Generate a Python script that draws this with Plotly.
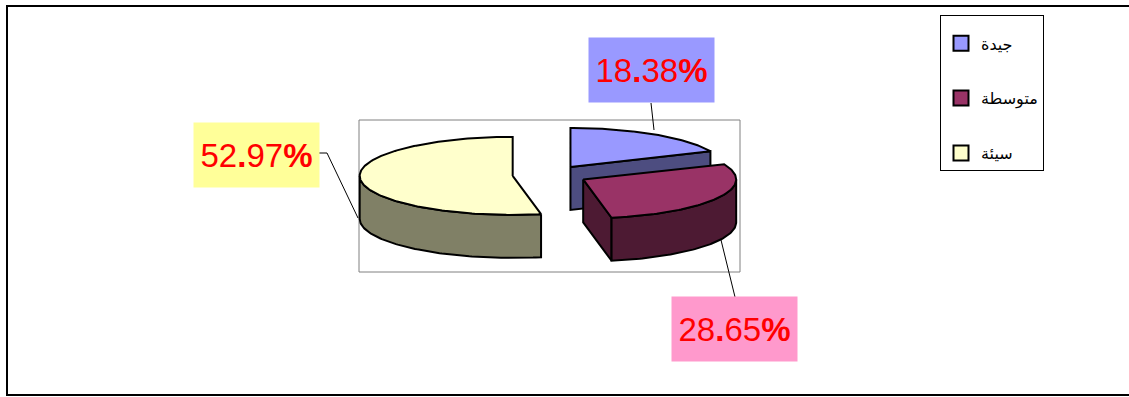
import numpy as np
import plotly.graph_objects as go

# ---- data ----
categories = ["جيدة", "متوسطة", "سيئة"]
percentages = [18.38, 28.65, 52.97]
top_colors = ["#9999FF", "#993366", "#FFFFCC"]
side_colors = ["#4D4D80", "#4D1A33", "#808066"]
label_bg = ["#9999FF", "#FF99CC", "#FFFF99"]
label_pos = [(651.5, 70), (734.5, 328.5), (256, 154.5)]

# ---- geometry (pixel space) ----
W, HGT = 1129, 397
CX, CY = 550, 175
RA, RB = 153, 39
DEPTH = 43
EXPLODE = 0.245


def arc(cx, cy, t1, t2, dy=0.0):
    n = max(2, int(abs(t2 - t1)) + 1)
    t = np.radians(np.linspace(t1, t2, n))
    return list(cx + RA * np.sin(t)), list(cy - RB * np.cos(t) + dy)


def pt(cx, cy, th, dy=0.0):
    r = np.radians(th)
    return cx + RA * np.sin(r), cy - RB * np.cos(r) + dy


fig = go.Figure()

total = sum(percentages)
starts = []
acc = 0.0
for v in percentages:
    starts.append(acc / total * 360.0)
    acc += v
ends = [s + v / total * 360.0 for s, v in zip(starts, percentages)]

slices = []
for i in range(len(percentages)):
    t1, t2 = starts[i], ends[i]
    mid = np.radians((t1 + t2) / 2)
    cx = CX + EXPLODE * RA * np.sin(mid)
    cy = CY - EXPLODE * RB * np.cos(mid)
    slices.append((cy, i, t1, t2, cx))

faces_style = dict(mode="lines", fill="toself", hoverinfo="skip", showlegend=False)

for cy, i, t1, t2, cx in sorted(slices):
    side = side_colors[i]
    # radial cut faces
    for th, normal in ((t1, t1 - 90), (t2, t2 + 90)):
        if np.cos(np.radians(normal)) < -1e-6:
            px, py = pt(cx, cy, th)
            xs = [cx, px, px, cx, cx]
            ys = [cy, py, py + DEPTH, cy + DEPTH, cy]
            fig.add_trace(go.Scatter(x=xs, y=ys, fillcolor=side,
                                     line=dict(color="black", width=2), **faces_style))
    # outer wall
    a1, a2 = max(t1, 90), min(t2, 270)
    if a2 > a1:
        xt, yt = arc(cx, cy, a1, a2)
        xb, yb = arc(cx, cy, a1, a2, DEPTH)
        xs = xt + xb[::-1] + [xt[0]]
        ys = yt + yb[::-1] + [yt[0]]
        fig.add_trace(go.Scatter(x=xs, y=ys, fillcolor=side,
                                 line=dict(color="black", width=2), **faces_style))
    # top face
    xa, ya = arc(cx, cy, t1, t2)
    fig.add_trace(go.Scatter(x=[cx] + xa + [cx], y=[cy] + ya + [cy],
                             fillcolor=top_colors[i],
                             line=dict(color="black", width=2), **faces_style))

# legend entries
for i, name in enumerate(categories):
    fig.add_trace(go.Scatter(
        x=[None], y=[None], mode="markers", name=name, legendgroup=str(i),
        marker=dict(symbol="square", size=15, color=top_colors[i],
                    line=dict(color="black", width=2)),
    ))

# percentage labels
annotations = []
for i, v in enumerate(percentages):
    a, b = f"{v:.2f}".split(".")
    x, y = label_pos[i]
    annotations.append(dict(
        x=x, y=y, xref="x", yref="y", showarrow=False,
        text=f"{a}<b>.</b>{b}<b>%</b>",
        font=dict(family="Liberation Sans, Arial", size=33, color="#FF0000"),
        bgcolor=label_bg[i], width=125, height=64, borderpad=0,
        xanchor="center", yanchor="middle",
    ))

shapes = [
    # outer frame
    dict(type="rect", xref="x", yref="y", x0=7, y0=6, x1=1140, y1=395,
         line=dict(color="black", width=2)),
    # plot area frame
    dict(type="rect", xref="x", yref="y", x0=359, y0=120, x1=740, y1=272,
         line=dict(color="#808080", width=1), layer="below"),
    # leader lines
    dict(type="line", xref="x", yref="y", x0=651, y0=103, x1=654, y1=130,
         line=dict(color="black", width=1)),
    dict(type="path", xref="x", yref="y", path="M318,153 L327,153 L358,218",
         line=dict(color="black", width=1)),
    dict(type="line", xref="x", yref="y", x0=721, y0=240, x1=735, y1=297,
         line=dict(color="black", width=1)),
]

fig.update_layout(
    width=W, height=HGT,
    margin=dict(l=0, r=0, t=0, b=0),
    paper_bgcolor="white", plot_bgcolor="white",
    xaxis=dict(range=[0, W], visible=False, fixedrange=True),
    yaxis=dict(range=[HGT, 0], visible=False, fixedrange=True),
    showlegend=True,
    legend=dict(
        x=940 / W, y=1 - 15 / HGT, xanchor="left", yanchor="top",
        bordercolor="black", borderwidth=1, bgcolor="white",
        font=dict(family="DejaVu Sans", size=16, color="black"),
        title=dict(text="&nbsp;", font=dict(size=8)),
        tracegroupgap=31, traceorder="grouped",
    ),
    annotations=annotations,
    shapes=shapes,
)

fig.write_html("out.html")
